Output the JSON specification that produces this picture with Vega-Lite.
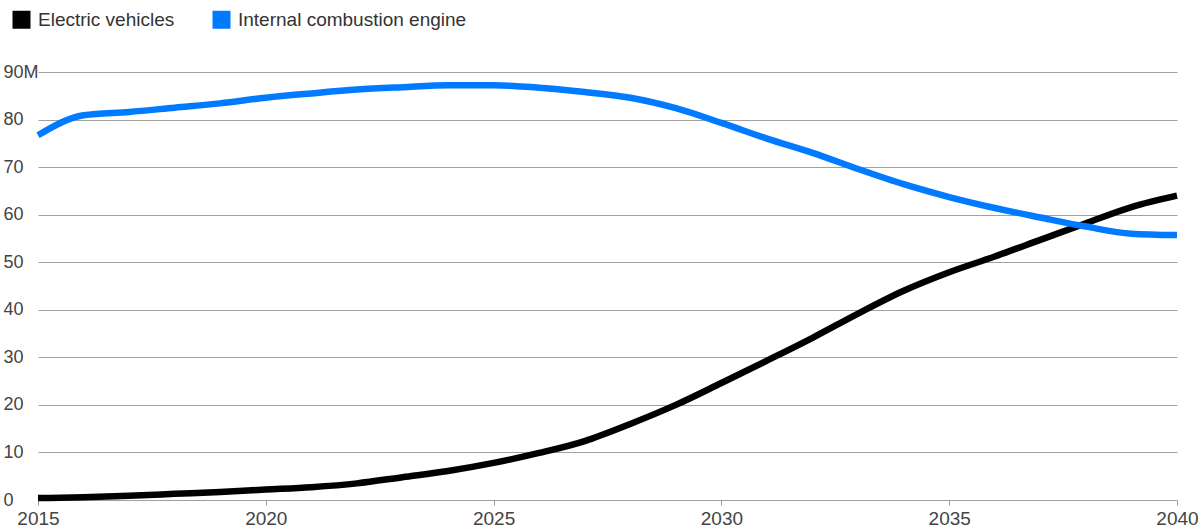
{
  "$schema": "https://vega.github.io/schema/vega-lite/v6.json",
  "width": 1139,
  "height": 428,
  "autosize": {"type": "none"},
  "padding": {"left": 38, "top": 72, "right": 26, "bottom": 32},
  "background": "white",
  "config": {
    "view": {"stroke": null},
    "font": "Liberation Sans"
  },
  "data": {
    "values": [
      {"year": 2015, "series": "Electric vehicles", "value": 0.4},
      {"year": 2016, "series": "Electric vehicles", "value": 0.6},
      {"year": 2017, "series": "Electric vehicles", "value": 0.9},
      {"year": 2018, "series": "Electric vehicles", "value": 1.3},
      {"year": 2019, "series": "Electric vehicles", "value": 1.7},
      {"year": 2020, "series": "Electric vehicles", "value": 2.2},
      {"year": 2021, "series": "Electric vehicles", "value": 2.7},
      {"year": 2022, "series": "Electric vehicles", "value": 3.5},
      {"year": 2023, "series": "Electric vehicles", "value": 4.8},
      {"year": 2024, "series": "Electric vehicles", "value": 6.1},
      {"year": 2025, "series": "Electric vehicles", "value": 7.8},
      {"year": 2026, "series": "Electric vehicles", "value": 9.9},
      {"year": 2027, "series": "Electric vehicles", "value": 12.4},
      {"year": 2028, "series": "Electric vehicles", "value": 16.0},
      {"year": 2029, "series": "Electric vehicles", "value": 20.0},
      {"year": 2030, "series": "Electric vehicles", "value": 24.6},
      {"year": 2031, "series": "Electric vehicles", "value": 29.3},
      {"year": 2032, "series": "Electric vehicles", "value": 34.1},
      {"year": 2033, "series": "Electric vehicles", "value": 39.2},
      {"year": 2034, "series": "Electric vehicles", "value": 44.0},
      {"year": 2035, "series": "Electric vehicles", "value": 47.9},
      {"year": 2036, "series": "Electric vehicles", "value": 51.2},
      {"year": 2037, "series": "Electric vehicles", "value": 54.7},
      {"year": 2038, "series": "Electric vehicles", "value": 58.2},
      {"year": 2039, "series": "Electric vehicles", "value": 61.6},
      {"year": 2040, "series": "Electric vehicles", "value": 64.0},
      {"year": 2015, "series": "Internal combustion engine", "value": 76.7},
      {"year": 2016, "series": "Internal combustion engine", "value": 80.9},
      {"year": 2017, "series": "Internal combustion engine", "value": 81.6},
      {"year": 2018, "series": "Internal combustion engine", "value": 82.5},
      {"year": 2019, "series": "Internal combustion engine", "value": 83.4},
      {"year": 2020, "series": "Internal combustion engine", "value": 84.6},
      {"year": 2021, "series": "Internal combustion engine", "value": 85.5},
      {"year": 2022, "series": "Internal combustion engine", "value": 86.3},
      {"year": 2023, "series": "Internal combustion engine", "value": 86.8},
      {"year": 2024, "series": "Internal combustion engine", "value": 87.2},
      {"year": 2025, "series": "Internal combustion engine", "value": 87.2},
      {"year": 2026, "series": "Internal combustion engine", "value": 86.7},
      {"year": 2027, "series": "Internal combustion engine", "value": 85.8},
      {"year": 2028, "series": "Internal combustion engine", "value": 84.6},
      {"year": 2029, "series": "Internal combustion engine", "value": 82.4},
      {"year": 2030, "series": "Internal combustion engine", "value": 79.3},
      {"year": 2031, "series": "Internal combustion engine", "value": 76.0},
      {"year": 2032, "series": "Internal combustion engine", "value": 73.0},
      {"year": 2033, "series": "Internal combustion engine", "value": 69.6},
      {"year": 2034, "series": "Internal combustion engine", "value": 66.4},
      {"year": 2035, "series": "Internal combustion engine", "value": 63.7},
      {"year": 2036, "series": "Internal combustion engine", "value": 61.4},
      {"year": 2037, "series": "Internal combustion engine", "value": 59.4},
      {"year": 2038, "series": "Internal combustion engine", "value": 57.5},
      {"year": 2039, "series": "Internal combustion engine", "value": 56.0},
      {"year": 2040, "series": "Internal combustion engine", "value": 55.7}
    ]
  },
  "mark": {"type": "line", "interpolate": "monotone", "strokeWidth": 6.5, "clip": false},
  "encoding": {
    "x": {
      "field": "year",
      "type": "quantitative",
      "scale": {"domain": [2015, 2040], "nice": false, "zero": false},
      "axis": {
        "title": null,
        "values": [2015, 2020, 2025, 2030, 2035, 2040],
        "format": "d",
        "grid": false,
        "domain": false,
        "ticks": true,
        "tickSize": 5,
        "tickColor": "#999999",
        "labelFlush": false,
        "labelFontSize": 19,
        "labelColor": "#444444",
        "labelPadding": 4
      }
    },
    "y": {
      "field": "value",
      "type": "quantitative",
      "scale": {"domain": [0, 90], "nice": false},
      "axis": {
        "title": null,
        "values": [0, 10, 20, 30, 40, 50, 60, 70, 80, 90],
        "grid": true,
        "gridColor": "#a0a0a0",
        "gridWidth": 1.2,
        "domain": false,
        "ticks": false,
        "tickSize": 0,
        "labelAlign": "left",
        "labelBaseline": "middle",
        "labelPadding": 35,
        "labelFontSize": 18,
        "labelColor": "#444444",
        "labelExpr": "datum.value == 90 ? '90M' : datum.label"
      }
    },
    "color": {
      "field": "series",
      "type": "nominal",
      "scale": {
        "domain": ["Electric vehicles", "Internal combustion engine"],
        "range": ["#000000", "#007bff"]
      },
      "legend": {
        "title": null,
        "orient": "none",
        "legendX": -26,
        "legendY": -62,
        "direction": "horizontal",
        "symbolType": "square",
        "symbolSize": 324,
        "symbolStrokeWidth": 0,
        "labelFontSize": 19,
        "labelLimit": 500,
        "labelColor": "#333333",
        "labelOffset": 7,
        "columnPadding": 37,
        "encode": {
          "symbols": {"update": {"fill": {"scale": "color", "field": "value"}, "fillOpacity": {"value": 1}}}
        }
      }
    }
  }
}
